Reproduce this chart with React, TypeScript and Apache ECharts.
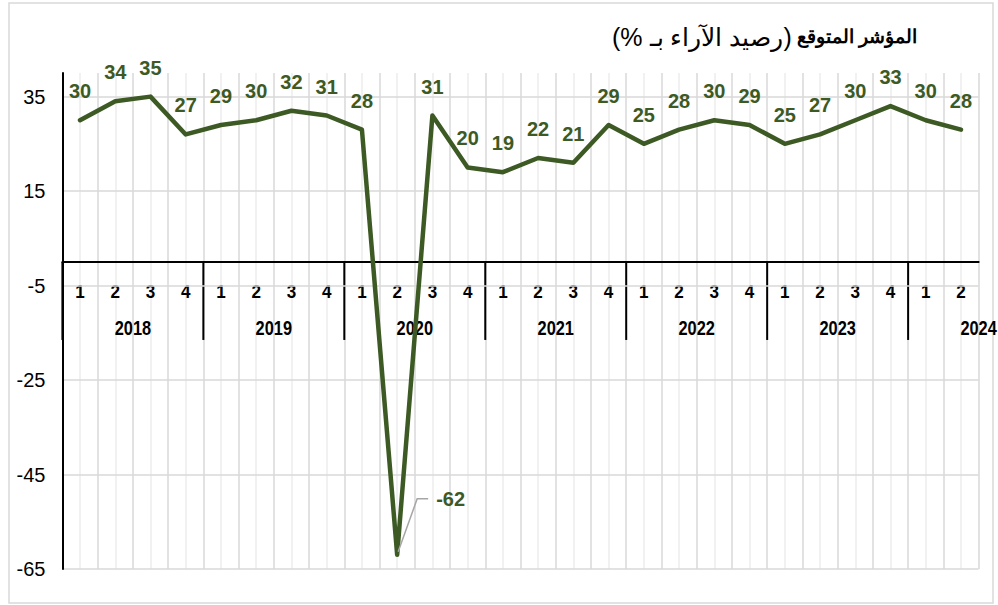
import React, { useEffect, useRef } from 'react';
import * as echarts from 'echarts';

const quarters = ['1', '2', '3', '4', '1', '2', '3', '4', '1', '2', '3', '4', '1', '2', '3', '4', '1', '2', '3', '4', '1', '2', '3', '4', '1', '2'];
const years = ['2018', '2019', '2020', '2021', '2022', '2023', '2024'];
const quartersPerYear = 4;
const values = [30, 34, 35, 27, 29, 30, 32, 31, 28, -62, 31, 20, 19, 22, 21, 29, 25, 28, 30, 29, 25, 27, 30, 33, 30, 28];
const yMin = -65;
const yMax = 40;
const yInterval = 20;
const titleMain = 'المؤشر المتوقع';
const titleSub = '(رصيد الآراء بـ %)';

const GREEN = '#3d5a24';
const FONT = '"Liberation Sans", Arial, sans-serif';
const RLM = '\u200F';

export default function App() {
  const ref = useRef<HTMLDivElement>(null);

  useEffect(() => {
    if (!ref.current) return;
    const chart = echarts.init(ref.current, null, { renderer: 'svg' });
    const minIdx = values.indexOf(Math.min(...values));
    const halfSlots = Array.from({ length: quarters.length * 2 }, (_, i) => String(i));

    const option: any = {
      animation: false,
      backgroundColor: '#fff',
      title: {
        text: `{r|${RLM}${titleSub}${RLM}} {b|${RLM}${titleMain}${RLM}}`,
        right: 76,
        top: 19,
        textStyle: {
          rich: {
            r: { fontSize: 25, fontFamily: FONT, color: '#000', fontWeight: 'normal' },
            b: { fontSize: 19, fontFamily: FONT, color: '#000', fontWeight: 'bold' },
          },
        },
      },
      grid: { left: 62.4, right: 19.4, top: 73, bottom: 36, containLabel: false },
      xAxis: [
        {
          type: 'category',
          data: quarters,
          boundaryGap: true,
          axisLine: { onZero: true, lineStyle: { color: '#000', width: 2 } },
          axisTick: { show: false },
          axisLabel: { show: false },
          splitLine: { show: false },
          z: 6,
        },
        {
          type: 'category',
          data: halfSlots,
          boundaryGap: true,
          position: 'top',
          axisLine: { show: false, onZero: false },
          axisTick: { show: false },
          axisLabel: { show: false, interval: 0 },
          splitLine: { show: true, interval: 0, lineStyle: { color: ['#d9d9d9', '#ededed'], width: 1.5 } },
          z: 0,
        },
      ],
      yAxis: {
        type: 'value',
        min: yMin,
        max: yMax,
        interval: yInterval,
        axisLine: { show: true, onZero: false, lineStyle: { color: '#000', width: 2 } },
        axisTick: { show: false },
        axisLabel: { fontSize: 20, color: '#000', margin: 17, fontFamily: FONT, showMaxLabel: false },
        splitLine: { show: true, showMaxLine: false, lineStyle: { color: '#d9d9d9', width: 1.5 } },
        z: 6,
      },
      series: [
        {
          type: 'custom',
          name: 'years',
          xAxisIndex: 0,
          yAxisIndex: 0,
          clip: false,
          silent: true,
          z: 3,
          data: years.map((_, i) => [i * quartersPerYear, 0]),
          renderItem: (params: any, api: any) => {
            const start = api.value(0);
            const p = api.coord([start, 0]);
            const bw = api.size([1, 0])[0];
            const x0 = p[0] - bw / 2;
            const y0 = p[1];
            return {
              type: 'group',
              children: [
                {
                  type: 'line',
                  shape: { x1: x0, y1: y0, x2: x0, y2: y0 + 78 },
                  style: { stroke: '#000', lineWidth: 2 },
                },
                {
                  type: 'text',
                  x: x0 + (bw * quartersPerYear) / 2,
                  y: y0 + 66,
                  scaleX: 0.82,
                  style: {
                    text: years[params.dataIndex],
                    align: 'center',
                    verticalAlign: 'middle',
                    fontSize: 20,
                    fontWeight: 'bold',
                    fontFamily: FONT,
                    fill: '#000',
                  },
                },
              ],
            };
          },
        },
        {
          type: 'custom',
          name: 'quarters',
          xAxisIndex: 0,
          yAxisIndex: 0,
          clip: false,
          silent: true,
          z: 3,
          data: quarters.map((_, i) => [i, 0]),
          renderItem: (params: any, api: any) => {
            const p = api.coord([api.value(0), 0]);
            return {
              type: 'text',
              x: p[0],
              y: p[1] + 30,
              scaleX: 0.95,
              style: {
                text: quarters[params.dataIndex],
                align: 'center',
                verticalAlign: 'middle',
                fontSize: 18,
                fontWeight: 'bold',
                fontFamily: FONT,
                fill: '#000',
              },
            };
          },
        },
        {
          type: 'line',
          name: 'index',
          xAxisIndex: 0,
          yAxisIndex: 0,
          z: 10,
          data: values.map((v, i) =>
            i === minIdx
              ? { value: v, label: { position: 'right', offset: [20, -56] } }
              : v
          ),
          symbol: 'circle',
          symbolSize: 2,
          showSymbol: true,
          itemStyle: { color: GREEN },
          lineStyle: { color: GREEN, width: 4.5, cap: 'round', join: 'round' },
          label: {
            show: true,
            position: 'top',
            distance: 18,
            color: GREEN,
            fontSize: 20,
            fontWeight: 'bold',
            fontFamily: FONT,
          },
        },
      ],
    };
    chart.setOption(option);

    const pt = chart.convertToPixel({ seriesIndex: 2 }, [minIdx, values[minIdx]]) as number[];
    chart.setOption({
      graphic: [
        {
          type: 'rect',
          silent: true,
          shape: { x: 9, y: 3, width: 984, height: 600 },
          style: { fill: 'none', stroke: '#d9d9d9', lineWidth: 1.5 },
          z: 0,
        },
        {
          type: 'polyline',
          silent: true,
          shape: { points: [[pt[0] + 1, pt[1] - 3], [pt[0] + 20, pt[1] - 56], [pt[0] + 31, pt[1] - 56]] },
          style: { fill: 'none', stroke: '#a6a6a6', lineWidth: 1.5 },
          z: 20,
        },
      ],
    });

    return () => chart.dispose();
  }, []);

  return (
    <div
      ref={ref}
      style={{ position: 'absolute', left: 0, top: 0, width: 998, height: 605, background: '#fff' }}
    />
  );
}
